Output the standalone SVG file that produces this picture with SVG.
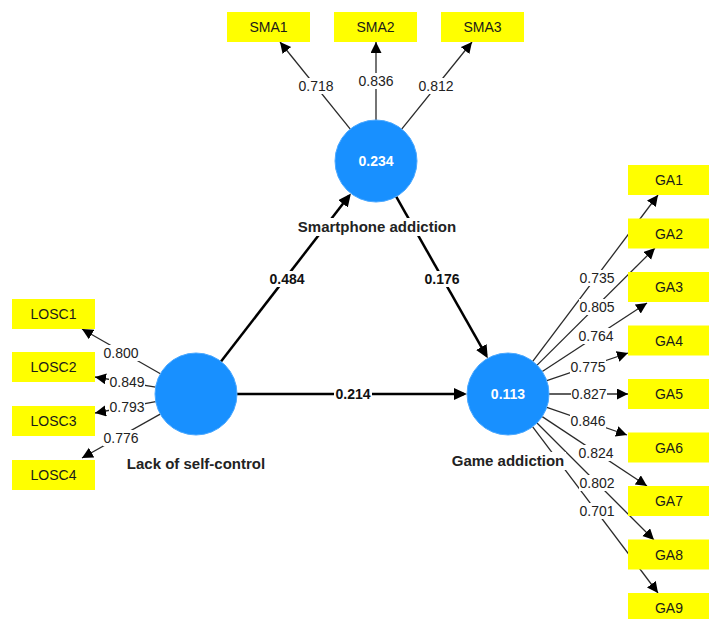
<svg xmlns="http://www.w3.org/2000/svg" width="709" height="619" viewBox="0 0 709 619">
<style>
  .box { fill: #ffff00; }
  .btxt { font-family: "Liberation Sans", Arial, sans-serif; font-size: 14px; fill: #1a1a1a; text-anchor: middle; }
  .lv { fill: #1890ff; stroke: #4aa8ff; stroke-width: 1; }
  .lvtxt { font-family: "Liberation Sans", Arial, sans-serif; font-size: 14px; font-weight: bold; fill: #ffffff; text-anchor: middle; }
  .name { font-family: "Liberation Sans", Arial, sans-serif; font-size: 15px; font-weight: bold; fill: #222222; text-anchor: middle; }
  .meas { stroke: #2a2a2a; stroke-width: 1.3; fill: none; marker-end: url(#ah); }
  .struct { stroke: #000000; stroke-width: 2.5; fill: none; marker-end: url(#ahb); }
  .lbl { font-family: "Liberation Sans", Arial, sans-serif; font-size: 14px; fill: #222222; text-anchor: middle; }
  .blbl { font-family: "Liberation Sans", Arial, sans-serif; font-size: 14px; font-weight: bold; fill: #111111; text-anchor: middle; }
  .bg { fill: #ffffff; }
</style>
<defs>
  <marker id="ah" markerUnits="userSpaceOnUse" markerWidth="12" markerHeight="12" refX="11" refY="5.5" orient="auto">
    <path d="M0,0 L11,5.5 L0,11 Z" fill="#000"/>
  </marker>
  <marker id="ahb" markerUnits="userSpaceOnUse" markerWidth="14" markerHeight="14" refX="10" refY="6" orient="auto">
    <path d="M0,0 L13,6 L0,12 Z" fill="#000"/>
  </marker>
</defs>
<rect width="709" height="619" fill="#ffffff"/>

<g id="connectors">
  <!-- structural -->
  <line class="struct" x1="221" y1="361.6" x2="349.1" y2="195.8"/>
  <line class="struct" x1="396.2" y1="196.7" x2="486.3" y2="355.7"/>
  <line class="struct" x1="237" y1="394" x2="464" y2="394"/>
  <!-- SMA -->
  <line class="meas" x1="350.3" y1="129.1" x2="280" y2="42"/>
  <line class="meas" x1="376" y1="120" x2="376" y2="42"/>
  <line class="meas" x1="401.7" y1="129.1" x2="472" y2="42"/>
  <!-- LOSC -->
  <line class="meas" x1="160.4" y1="373.7" x2="82" y2="329"/>
  <line class="meas" x1="155.6" y1="387.2" x2="95" y2="377"/>
  <line class="meas" x1="155.7" y1="401.6" x2="95" y2="413"/>
  <line class="meas" x1="160.2" y1="414.1" x2="82" y2="458"/>
  <!-- GA -->
  <line class="meas" x1="532.7" y1="361.3" x2="658" y2="195"/>
  <line class="meas" x1="537.1" y1="365.1" x2="655" y2="248"/>
  <line class="meas" x1="542.3" y1="371.5" x2="647" y2="303"/>
  <line class="meas" x1="546.8" y1="380.7" x2="628" y2="353"/>
  <line class="meas" x1="549" y1="394" x2="628" y2="394"/>
  <line class="meas" x1="546.8" y1="407.4" x2="627" y2="435"/>
  <line class="meas" x1="542.2" y1="416.6" x2="647" y2="486"/>
  <line class="meas" x1="537" y1="423" x2="654" y2="540"/>
  <line class="meas" x1="532.7" y1="426.8" x2="658" y2="593"/>

  <!-- label backgrounds -->
  <rect class="bg" x="268" y="271" width="38" height="16"/>
  <rect class="bg" x="423" y="271" width="38" height="16"/>
  <rect class="bg" x="334" y="386" width="38" height="16"/>
  <rect class="bg" x="298" y="78" width="36" height="16"/>
  <rect class="bg" x="358" y="73" width="36" height="16"/>
  <rect class="bg" x="418" y="78" width="36" height="16"/>
  <rect class="bg" x="103" y="345" width="36" height="16"/>
  <rect class="bg" x="109" y="374" width="36" height="16"/>
  <rect class="bg" x="109" y="399" width="36" height="16"/>
  <rect class="bg" x="103" y="430" width="36" height="16"/>
  <rect class="bg" x="579" y="270" width="36" height="16"/>
  <rect class="bg" x="579" y="299" width="36" height="16"/>
  <rect class="bg" x="578" y="328" width="36" height="16"/>
  <rect class="bg" x="570" y="359" width="36" height="16"/>
  <rect class="bg" x="571" y="386" width="36" height="16"/>
  <rect class="bg" x="570" y="413" width="36" height="16"/>
  <rect class="bg" x="578" y="445" width="36" height="16"/>
  <rect class="bg" x="579" y="475" width="36" height="16"/>
  <rect class="bg" x="579" y="503" width="36" height="16"/>

  <text class="blbl" x="287" y="284">0.484</text>
  <text class="blbl" x="442" y="284">0.176</text>
  <text class="blbl" x="353" y="399">0.214</text>
  <text class="lbl" x="316" y="91">0.718</text>
  <text class="lbl" x="376" y="86">0.836</text>
  <text class="lbl" x="436" y="91">0.812</text>
  <text class="lbl" x="121" y="358">0.800</text>
  <text class="lbl" x="127" y="387">0.849</text>
  <text class="lbl" x="127" y="412">0.793</text>
  <text class="lbl" x="121" y="443">0.776</text>
  <text class="lbl" x="597" y="283">0.735</text>
  <text class="lbl" x="597" y="312">0.805</text>
  <text class="lbl" x="596" y="341">0.764</text>
  <text class="lbl" x="588" y="372">0.775</text>
  <text class="lbl" x="589" y="399">0.827</text>
  <text class="lbl" x="588" y="426">0.846</text>
  <text class="lbl" x="596" y="458">0.824</text>
  <text class="lbl" x="597" y="488">0.802</text>
  <text class="lbl" x="597" y="516">0.701</text>
</g>

<g id="smartphone-addiction">
  <circle class="lv" cx="376" cy="161" r="41"/>
  <text class="lvtxt" x="376" y="166">0.234</text>
  <rect class="bg" x="296" y="218" width="162" height="18"/>
  <text class="name" x="377" y="232">Smartphone addiction</text>
</g>
<g id="lack-of-self-control">
  <circle class="lv" cx="196" cy="394" r="41"/>
  <text class="name" x="196" y="469">Lack of self-control</text>
</g>
<g id="game-addiction">
  <circle class="lv" cx="508" cy="394" r="41"/>
  <text class="lvtxt" x="508" y="399">0.113</text>
  <rect class="bg" x="451" y="452" width="115" height="18"/>
  <text class="name" x="508" y="466">Game addiction</text>
</g>

<g id="SMA1"><rect class="box" x="227" y="12" width="83" height="30"/><text class="btxt" x="268.5" y="32">SMA1</text></g>
<g id="SMA2"><rect class="box" x="334" y="12" width="83" height="30"/><text class="btxt" x="375.5" y="32">SMA2</text></g>
<g id="SMA3"><rect class="box" x="441" y="12" width="83" height="30"/><text class="btxt" x="482.5" y="32">SMA3</text></g>

<g id="LOSC1"><rect class="box" x="12" y="299" width="83" height="30"/><text class="btxt" x="53.5" y="319">LOSC1</text></g>
<g id="LOSC2"><rect class="box" x="12" y="352" width="83" height="30"/><text class="btxt" x="53.5" y="372">LOSC2</text></g>
<g id="LOSC3"><rect class="box" x="12" y="406" width="83" height="30"/><text class="btxt" x="53.5" y="426">LOSC3</text></g>
<g id="LOSC4"><rect class="box" x="12" y="460" width="83" height="30"/><text class="btxt" x="53.5" y="480">LOSC4</text></g>

<g id="GA1"><rect class="box" x="628" y="165" width="83" height="30"/><text class="btxt" x="669" y="185">GA1</text></g>
<g id="GA2"><rect class="box" x="628" y="218.5" width="83" height="30"/><text class="btxt" x="669" y="238.5">GA2</text></g>
<g id="GA3"><rect class="box" x="628" y="272" width="83" height="30"/><text class="btxt" x="669" y="292">GA3</text></g>
<g id="GA4"><rect class="box" x="628" y="325.5" width="83" height="30"/><text class="btxt" x="669" y="345.5">GA4</text></g>
<g id="GA5"><rect class="box" x="628" y="379" width="83" height="30"/><text class="btxt" x="669" y="399">GA5</text></g>
<g id="GA6"><rect class="box" x="628" y="432.5" width="83" height="30"/><text class="btxt" x="669" y="452.5">GA6</text></g>
<g id="GA7"><rect class="box" x="628" y="486" width="83" height="30"/><text class="btxt" x="669" y="506">GA7</text></g>
<g id="GA8"><rect class="box" x="628" y="539.5" width="83" height="30"/><text class="btxt" x="669" y="559.5">GA8</text></g>
<g id="GA9"><rect class="box" x="628" y="593" width="83" height="30"/><text class="btxt" x="669" y="613">GA9</text></g>
</svg>
